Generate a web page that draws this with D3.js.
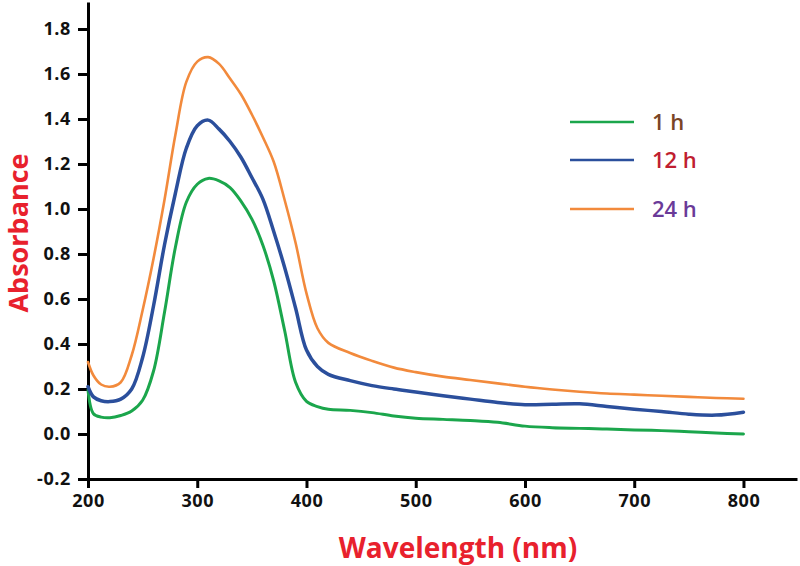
<!DOCTYPE html>
<html><head><meta charset="utf-8">
<script src="https://cdn.jsdelivr.net/npm/d3@7"></script>
<style>html,body{margin:0;padding:0;background:#fff;}svg{display:block;}</style>
</head><body>
<svg id="chart" width="800" height="566"></svg>
<script>
const wavelengths = [200,205,212,220,230,240,250,260,270,280,290,300,310,320,330,340,350,360,370,380,390,400,410,420,440,460,480,500,525,550,575,600,625,650,675,700,725,750,775,800];
const series1h  = [0.196,0.09,0.075,0.072,0.082,0.102,0.15,0.28,0.54,0.83,1.03,1.11,1.136,1.125,1.095,1.035,0.955,0.84,0.68,0.46,0.23,0.145,0.122,0.11,0.105,0.095,0.08,0.07,0.065,0.06,0.052,0.035,0.028,0.025,0.022,0.018,0.015,0.01,0.004,0.0];
const series12h = [0.21,0.165,0.148,0.144,0.155,0.20,0.34,0.57,0.84,1.07,1.27,1.37,1.395,1.355,1.30,1.23,1.14,1.045,0.90,0.74,0.56,0.373,0.30,0.265,0.237,0.215,0.20,0.187,0.17,0.155,0.14,0.13,0.132,0.134,0.122,0.11,0.10,0.088,0.084,0.097];
const series24h = [0.32,0.26,0.22,0.21,0.23,0.35,0.55,0.78,1.04,1.33,1.565,1.655,1.675,1.645,1.58,1.51,1.42,1.32,1.21,1.04,0.85,0.625,0.47,0.405,0.36,0.325,0.295,0.275,0.255,0.24,0.225,0.21,0.198,0.188,0.18,0.175,0.17,0.165,0.16,0.157];
const seriesNames = ["1 h","12 h","24 h"];
const xTicks = [200,300,400,500,600,700,800];
const yTicks = [-0.2,0.0,0.2,0.4,0.6,0.8,1.0,1.2,1.4,1.6,1.8];

const lineColors = ["#1ba64c","#2b4f9c","#f28a3c"];
const lineWidths = [3,3.5,2.6];
const labelColors = ["#7a4526","#c01e30","#6a3a98"];

const svg = d3.select("#chart");
const x = d3.scaleLinear().domain([200,849]).range([88,797]);
const y = d3.scaleLinear().domain([-0.2,1.92]).range([479,2]);

const font = "'Open Sans', sans-serif";
const f1 = d3.format(".1f");

// axes
const xAxis = svg.append("g").attr("transform","translate(0,479)")
  .call(d3.axisBottom(x).tickValues(xTicks).tickSize(9).tickSizeOuter(0).tickPadding(6).tickFormat(d3.format("d")));
const yAxis = svg.append("g").attr("transform","translate(88,0)")
  .call(d3.axisLeft(y).tickValues(yTicks).tickSize(10).tickSizeOuter(0).tickPadding(7).tickFormat(d=>f1(d).replace("\u2212","-")));
[xAxis,yAxis].forEach(g=>{
  g.select(".domain").attr("stroke","#000").attr("stroke-width",3);
  g.selectAll(".tick line").attr("stroke","#000").attr("stroke-width",3);
  g.selectAll(".tick text").attr("fill","#111").style("font-family",font).style("font-weight","700")
    .style("font-size","18px").style("letter-spacing","0.6px");
});

// lines
const allSeries = [series1h, series12h, series24h];
const line = d3.line().x(d=>x(d[0])).y(d=>y(d[1])).curve(d3.curveCatmullRom.alpha(0.5));
allSeries.forEach((vals,i)=>{
  svg.append("path").datum(wavelengths.map((w,j)=>[w,vals[j]]))
    .attr("fill","none").attr("stroke",lineColors[i]).attr("stroke-width",lineWidths[i])
    .attr("stroke-linejoin","round").attr("stroke-linecap","round").attr("d",line);
});

// legend
const legY = [122,160,209];
seriesNames.forEach((n,i)=>{
  svg.append("line").attr("x1",570).attr("x2",634).attr("y1",legY[i]).attr("y2",legY[i])
    .attr("stroke",lineColors[i]).attr("stroke-width",2.6);
  svg.append("text").attr("x",652).attr("y",legY[i]).attr("dy","0.35em")
    .attr("fill",labelColors[i]).style("font-family",font).style("font-weight","600").style("font-size","22px")
    .text(n);
});

// axis titles
svg.append("text").attr("x",458).attr("y",548).attr("dy","0.35em").attr("text-anchor","middle")
  .attr("fill","#e8212d").style("font-family",font).style("font-weight","700").style("font-size","28px")
  .text("Wavelength (nm)");
svg.append("text").attr("transform","translate(19,233) rotate(-90)").attr("dy","0.35em").attr("text-anchor","middle")
  .attr("fill","#e8212d").style("font-family",font).style("font-weight","700").style("font-size","27px")
  .text("Absorbance");
</script>
</body></html>
